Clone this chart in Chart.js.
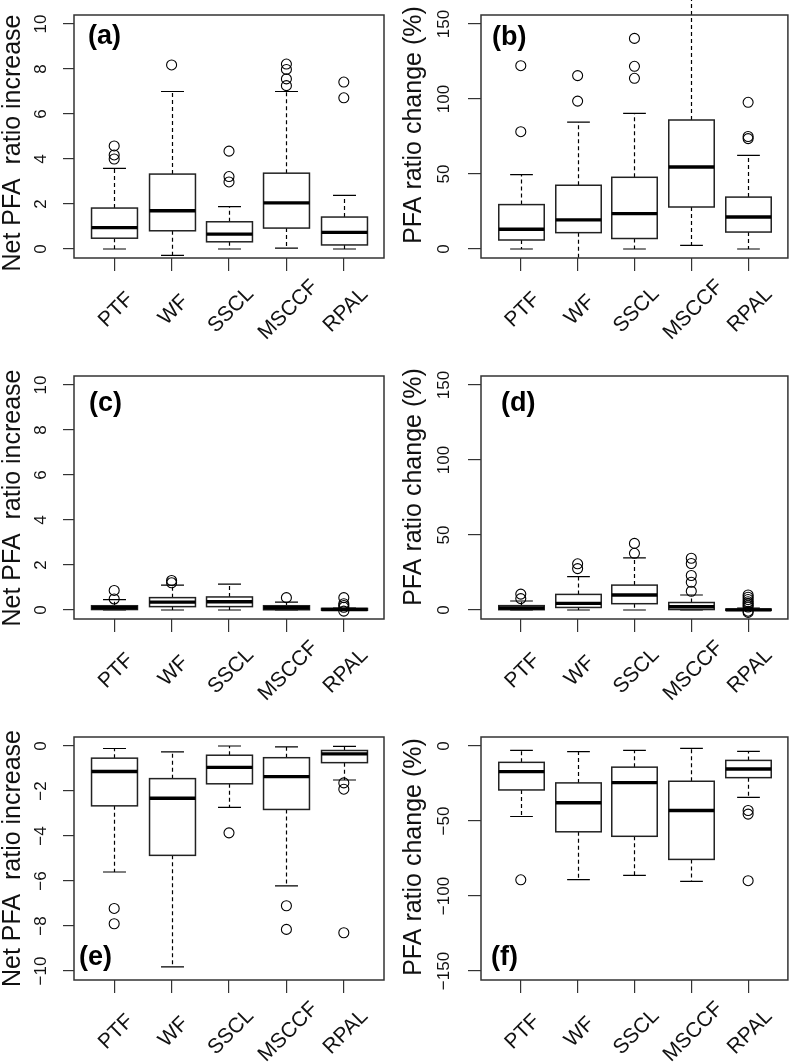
<!DOCTYPE html>
<html>
<head>
<meta charset="utf-8">
<script src="https://cdn.jsdelivr.net/npm/chart.js@4.4.0/dist/chart.umd.min.js"></script>
<style>
  body { margin: 0; background: #fff; width: 794px; height: 1063px; position: relative; overflow: hidden; }
  canvas { position: absolute; }
</style>
</head>
<body>
<canvas id="pa" width="397" height="361" style="left:0;top:0"></canvas>
<canvas id="pb" width="397" height="361" style="left:397px;top:0"></canvas>
<canvas id="pc" width="397" height="361" style="left:0;top:361px"></canvas>
<canvas id="pd" width="397" height="361" style="left:397px;top:361px"></canvas>
<canvas id="pe" width="397" height="341" style="left:0;top:722px"></canvas>
<canvas id="pf" width="397" height="341" style="left:397px;top:722px"></canvas>
<script>
var categories = ['PTF', 'WF', 'SSCL', 'MSCCF', 'RPAL'];

// (a) net PFA ratio increase
var aLower  = [0, -0.28, 0, 0.04, 0];
var aQ1     = [0.48, 0.81, 0.32, 0.93, 0.18];
var aMedian = [0.95, 1.70, 0.66, 2.05, 0.74];
var aQ3     = [1.82, 3.33, 1.21, 3.37, 1.42];
var aUpper  = [3.58, 7.0, 1.88, 7.0, 2.38];
var aOutliers = [[4.0, 4.18, 4.58], [8.18], [2.98, 3.22, 4.35], [7.26, 7.56, 7.98, 8.22], [6.72, 7.42]];

// (b) PFA ratio change (%)
var bLower  = [0, -12, 0, 2.4, 0];
var bQ1     = [6, 10.9, 7, 28, 11.3];
var bMedian = [13.2, 19.4, 23.6, 54.7, 21.3];
var bQ3     = [29.6, 42.5, 47.8, 86, 34.6];
var bUpper  = [49.6, 84.6, 90.4, 180, 62.4];
var bOutliers = [[78.2, 122.2], [98.6, 115.6], [113.8, 121.8, 140.4], [], [73.6, 75, 97.8]];

// (c) net PFA ratio increase
var cLower  = [0, 0, 0, 0, -0.02];
var cQ1     = [0.02, 0.15, 0.15, 0.01, -0.01];
var cMedian = [0.1, 0.35, 0.37, 0.1, 0.02];
var cQ3     = [0.19, 0.55, 0.58, 0.19, 0.07];
var cUpper  = [0.46, 1.11, 1.15, 0.35, 0.08];
var cOutliers = [[0.49, 0.87], [1.21, 1.31], [], [0.55], [-0.05, 0.12, 0.2, 0.28, 0.55]];

// (d) PFA ratio change (%)
var dLower  = [0, 0, 0, 0, -0.3];
var dQ1     = [0.2, 1.7, 4.2, 0.3, -0.2];
var dMedian = [1.3, 4.4, 10, 2.2, 0.1];
var dQ3     = [2.9, 10.4, 16.6, 5, 0.6];
var dUpper  = [6, 22.2, 34.8, 10, 1.2];
var dOutliers = [[7.6, 10.6], [27.6, 30.8], [37.8, 44.4], [12.5, 18.5, 23, 31, 34.5], [-1.6, -0.8, 2, 3.2, 4.4, 5.5, 7, 8.5, 10]];

// (e) net PFA ratio increase (negative)
var eLower  = [-5.6, -9.82, -2.73, -6.22, -1.51];
var eQ1     = [-2.66, -4.86, -1.68, -2.82, -0.74];
var eMedian = [-1.13, -2.32, -0.95, -1.36, -0.35];
var eQ3     = [-0.54, -1.45, -0.41, -0.52, -0.2];
var eUpper  = [-0.11, -0.26, 0, -0.04, -0.02];
var eOutliers = [[-7.22, -7.9], [], [-3.86], [-7.1, -8.15], [-1.64, -1.92, -8.3]];

// (f) PFA ratio change (%) (negative)
var fLower  = [-47, -89.1, -86.3, -90.3, -34.3];
var fQ1     = [-29.3, -57.2, -60.2, -75.6, -21.1];
var fMedian = [-17.1, -37.8, -24.4, -43, -15.3];
var fQ3     = [-10.9, -24.6, -14.1, -23.5, -9.6];
var fUpper  = [-2.9, -3.8, -2.9, -1.6, -3.6];
var fOutliers = [[-89.2], [], [], [], [-43, -45.4, -89.8]];

var netTicks = [0, 2, 4, 6, 8, 10];
var pctTicks = [0, 50, 100, 150];
var netNegTicks = [0, -2, -4, -6, -8, -10];
var pctNegTicks = [0, -50, -100, -150];

var netTitle = 'Net PFA  ratio increase';
var pctTitle = 'PFA ratio change (%)';

var FONT = "'Liberation Sans', Arial, Helvetica, sans-serif";

// column layout: plot left / right edge inside canvas, y tick length, label and title offsets
var columns = [
  { left: 74, right: 384, tickLen: 11, labelOff: 32.5, titleX: 13 },
  { left: 84, right: 394, tickLen: 13, labelOff: 37, titleX: 17 }
];

var panels = [
  { id: 'pa', col: 0, letter: '(a)', letterAt: [88, 37], titleY: 143, min: -0.4, max: 10.4, ticks: netTicks, title: netTitle,
    lower: aLower, q1: aQ1, median: aMedian, q3: aQ3, upper: aUpper, outliers: aOutliers },
  { id: 'pb', col: 1, letter: '(b)', letterAt: [95, 37.5], titleY: 125, min: -6, max: 156, ticks: pctTicks, title: pctTitle,
    lower: bLower, q1: bQ1, median: bMedian, q3: bQ3, upper: bUpper, outliers: bOutliers },
  { id: 'pc', col: 0, letter: '(c)', letterAt: [89, 42.5], titleY: 137, min: -0.4, max: 10.4, ticks: netTicks, title: netTitle,
    lower: cLower, q1: cQ1, median: cMedian, q3: cQ3, upper: cUpper, outliers: cOutliers },
  { id: 'pd', col: 1, letter: '(d)', letterAt: [104, 42.5], titleY: 126, min: -6, max: 156, ticks: pctTicks, title: pctTitle,
    lower: dLower, q1: dQ1, median: dMedian, q3: dQ3, upper: dUpper, outliers: dOutliers },
  { id: 'pe', col: 0, letter: '(e)', letterAt: [79, 235.5], titleY: 136.5, min: -10.4, max: 0.4, ticks: netNegTicks, title: netTitle,
    lower: eLower, q1: eQ1, median: eMedian, q3: eQ3, upper: eUpper, outliers: eOutliers },
  { id: 'pf', col: 1, letter: '(f)', letterAt: [94, 235.5], titleY: 135, min: -156, max: 6, ticks: pctNegTicks, title: pctTitle,
    lower: fLower, q1: fQ1, median: fMedian, q3: fQ3, upper: fUpper, outliers: fOutliers }
];

var PLOT_TOP = 15, PLOT_BOTTOM = 258;

function tickText(v) {
  return String(v).replace('-', '\u2212');
}

function boxPlugin(pn) {
  var col = columns[pn.col];
  return {
    id: 'rbox',
    beforeDatasetsDraw: function (chart) {
      var ctx = chart.ctx, xs = chart.scales.x, ys = chart.scales.y, area = chart.chartArea;
      var half = xs.getPixelForValue(1.4) - xs.getPixelForValue(1);
      ctx.save();
      ctx.beginPath();
      ctx.rect(0, 0, chart.width, area.bottom);
      ctx.clip();
      categories.forEach(function (c, i) {
        var x = Math.round(xs.getPixelForValue(i + 1)) + 0.5;
        var yl = ys.getPixelForValue(pn.lower[i]);
        var y1 = ys.getPixelForValue(pn.q1[i]);
        var ym = ys.getPixelForValue(pn.median[i]);
        var y3 = ys.getPixelForValue(pn.q3[i]);
        var yu = ys.getPixelForValue(pn.upper[i]);
        // whiskers
        ctx.strokeStyle = '#000';
        ctx.lineWidth = 1.2;
        ctx.setLineDash([4, 3]);
        ctx.beginPath();
        ctx.moveTo(x, y3); ctx.lineTo(x, yu);
        ctx.moveTo(x, y1); ctx.lineTo(x, yl);
        ctx.stroke();
        ctx.setLineDash([]);
        // staples
        ctx.beginPath();
        ctx.moveTo(x - half / 2, yu); ctx.lineTo(x + half / 2, yu);
        ctx.moveTo(x - half / 2, yl); ctx.lineTo(x + half / 2, yl);
        ctx.stroke();
        // box
        ctx.fillStyle = '#fff';
        ctx.fillRect(x - half, y3, 2 * half, y1 - y3);
        ctx.strokeStyle = '#222';
        ctx.lineWidth = 1.5;
        ctx.strokeRect(x - half, y3, 2 * half, y1 - y3);
        // median
        ctx.strokeStyle = '#000';
        ctx.lineWidth = 3.4;
        ctx.beginPath();
        ctx.moveTo(x - half, ym); ctx.lineTo(x + half, ym);
        ctx.stroke();
      });
      ctx.restore();
    },
    afterDraw: function (chart) {
      var ctx = chart.ctx, xs = chart.scales.x, ys = chart.scales.y, area = chart.chartArea;
      ctx.save();
      // frame
      ctx.strokeStyle = '#333';
      ctx.lineWidth = 1.5;
      ctx.strokeRect(area.left, area.top, area.right - area.left, area.bottom - area.top);
      ctx.fillStyle = '#111';
      ctx.textAlign = 'center';
      ctx.textBaseline = 'middle';
      // y tick labels, parallel to the axis
      ctx.font = '17px ' + FONT;
      pn.ticks.forEach(function (v) {
        ctx.save();
        ctx.translate(area.left - col.labelOff, ys.getPixelForValue(v));
        ctx.rotate(-Math.PI / 2);
        ctx.fillText(tickText(v), 0, 0);
        ctx.restore();
      });
      // x category labels at 45 degrees
      ctx.font = '21px ' + FONT;
      categories.forEach(function (c, i) {
        ctx.save();
        ctx.translate(xs.getPixelForValue(i + 1) + 2, area.bottom + 52);
        ctx.rotate(-Math.PI / 4);
        ctx.fillText(c, 0, 0);
        ctx.restore();
      });
      // y title
      ctx.font = '25px ' + FONT;
      ctx.save();
      ctx.translate(col.titleX, pn.titleY);
      ctx.rotate(-Math.PI / 2);
      ctx.fillText(pn.title, 0, 0);
      ctx.restore();
      // panel letter
      ctx.fillStyle = '#000';
      ctx.font = 'bold 27px ' + FONT;
      ctx.textAlign = 'left';
      ctx.fillText(pn.letter, pn.letterAt[0], pn.letterAt[1]);
      ctx.restore();
    }
  };
}

panels.forEach(function (pn) {
  var canvas = document.getElementById(pn.id);
  var col = columns[pn.col];
  var H = canvas.height, W = canvas.width;
  new Chart(canvas.getContext('2d'), {
    type: 'scatter',
    data: {
      datasets: [{
        data: pn.outliers.flatMap(function (vals, i) {
          return vals.map(function (v) { return { x: i + 1, y: v }; });
        }),
        pointRadius: 5,
        pointBorderWidth: 1.1,
        pointBorderColor: '#000',
        pointBackgroundColor: 'rgba(0,0,0,0)',
        showLine: false
      }]
    },
    options: {
      responsive: false,
      animation: false,
      events: [],
      layout: { padding: { left: 0, right: W - col.right, top: PLOT_TOP, bottom: 0 } },
      plugins: { legend: { display: false }, tooltip: { enabled: false } },
      scales: {
        x: {
          type: 'linear', min: 0.3, max: 5.7,
          afterBuildTicks: function (s) { s.ticks = categories.map(function (c, i) { return { value: i + 1 }; }); },
          afterFit: function (s) { s.height = H - PLOT_BOTTOM; },
          ticks: { display: false },
          border: { display: false },
          grid: { drawOnChartArea: false, drawTicks: true, tickLength: 13, color: '#333', lineWidth: 1.2 }
        },
        y: {
          type: 'linear', min: pn.min, max: pn.max,
          afterBuildTicks: function (s) { s.ticks = pn.ticks.map(function (v) { return { value: v }; }); },
          afterFit: function (s) { s.width = col.left; },
          ticks: { display: false },
          border: { display: false },
          grid: { drawOnChartArea: false, drawTicks: true, tickLength: col.tickLen, color: '#333', lineWidth: 1.2 }
        }
      }
    },
    plugins: [boxPlugin(pn)]
  });
});
</script>
</body>
</html>
